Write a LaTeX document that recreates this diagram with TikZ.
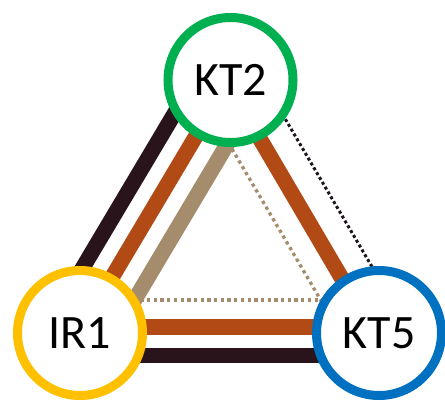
\documentclass[tikz,border=0pt]{standalone}
\usepackage{fontspec}
\setmainfont{Carlito}
\usetikzlibrary{calc,backgrounds}

\definecolor{ringgreen}{RGB}{0,176,80}
\definecolor{ringgold}{RGB}{255,192,0}
\definecolor{ringblue}{RGB}{0,112,192}
\definecolor{bonddark}{RGB}{42,20,28}
\definecolor{bondrust}{RGB}{178,74,22}
\definecolor{bondtan}{RGB}{164,140,108}
\definecolor{dotdark}{RGB}{30,20,30}

\tikzset{
	member/.style={circle,draw,fill=white,line width=9pt,minimum size=125pt,inner sep=0pt,font=\fontsize{48}{48}\selectfont},
	bond/.style={line width=15.5pt},
	weakbond/.style={line width=3.3pt,dash pattern=on 3.3pt off 3.4pt},
}

\begin{document}
\begin{tikzpicture}[x=1pt,y=1pt]
				\useasboundingbox (0,0) rectangle (445,400);
				\node[member,draw=ringgreen] (kt2) at (230.5,320) {KT2};
				\node[member,draw=ringgold] (ir1) at (80,67) {IR1};
				\node[member,draw=ringblue] (kt5) at (379,67) {KT5};
				\begin{scope}[on background layer]
				% IR1 -- KT2
				\draw[bond,bonddark] ($(ir1)!31pt!90:(kt2)$) -- ($(kt2)!31pt!-90:(ir1)$);
				\draw[bond,bondrust] ($(ir1)!1pt!90:(kt2)$) -- ($(kt2)!1pt!-90:(ir1)$);
				\draw[bond,bondtan] ($(ir1)!30pt!-90:(kt2)$) -- ($(kt2)!30pt!90:(ir1)$);
				% KT2 -- KT5
				\draw[weakbond,dotdark,line width=3pt,dash pattern=on 3pt off 2.6pt] ($(kt2)!27.5pt!90:(kt5)$) -- ($(kt5)!27.5pt!-90:(kt2)$);
				\draw[bond,bondrust] ($(kt2)!4.4pt!-90:(kt5)$) -- ($(kt5)!4.4pt!90:(kt2)$);
				\draw[weakbond,bondtan] ($(kt2)!33.6pt!-90:(kt5)$) -- ($(kt5)!33.6pt!90:(kt2)$);
				% IR1 -- KT5
				\draw[bond,bondrust] ($(ir1)!6pt!90:(kt5)$) -- ($(kt5)!6pt!-90:(ir1)$);
				\draw[bond,bonddark] ($(ir1)!22.5pt!-90:(kt5)$) -- ($(kt5)!22.5pt!90:(ir1)$);
				\draw[weakbond,bondtan] ($(ir1)!33pt!90:(kt5)$) -- ($(kt5)!33pt!-90:(ir1)$);
				\end{scope}
			\end{tikzpicture}
\end{document}
